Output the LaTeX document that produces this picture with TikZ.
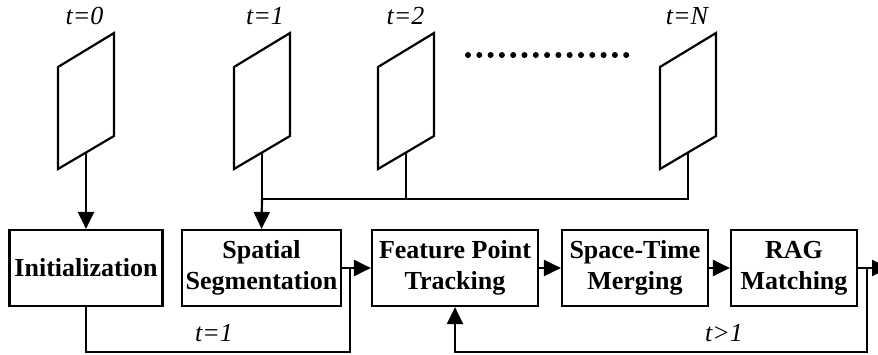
\documentclass[tikz,border=0pt]{standalone}
\usepackage{fontspec}
\setmainfont{Liberation Serif}
\usetikzlibrary{arrows.meta}
\begin{document}
\begin{tikzpicture}[x=1pt,y=-1pt,
  line width=2.2pt, line join=miter,
  box/.style={draw, minimum width=#1, minimum height=76pt, inner sep=0pt, align=center,
    font=\fontsize{26}{31}\selectfont\bfseries},
  lbl/.style={font=\fontsize{26}{31}\selectfont\itshape, inner sep=0pt, anchor=base},
  arr/.style={-{Triangle[length=17pt,width=16pt]}}
]
\clip (0,0) rectangle (878,354);
% frames
\foreach \n/\x in {f0/58, f1/234, f2/378, fN/660} {
  \draw (\x,67) -- (\x+56,33) -- (\x+56,136) -- (\x,169) -- cycle;
  \coordinate (\n) at (\x+28,152.5);
}
% labels
\node[lbl] (l0) at (84.5,24) {t=0};
\node[lbl] (l1) at (265,24) {t=1};
\node[lbl] (l2) at (405.5,24) {t=2};
\node[lbl] (lN) at (687,24) {t=N};
\node[lbl] (lb1) at (214,341) {t=1};
\node[lbl] (lb2) at (724,341) {t>1};
% dots
\foreach \i in {0,...,14} \fill (468+\i*11.3,55) coordinate (d\i) circle (3pt);
% boxes
\node[box=153pt] (init) at (86,268) {Initialization};
\node[box=159pt] (spat) at (261.5,268) {Spatial\\Segmentation};
\node[box=166pt] (feat) at (455,268) {Feature Point\\Tracking};
\node[box=146pt] (stm) at (635,268) {Space-Time\\Merging};
\node[box=126pt] (rag) at (794,268) {RAG\\Matching};
% helper coordinates
\coordinate (bus) at (0,199);
\coordinate (bot) at (0,352);
\coordinate (j1) at (350,268);
\coordinate (j2) at (867,268);
\coordinate (out) at (889,268);
% connectors
\draw[arr] (f0) -- (init.north);
\draw (f1) -- (f1 |- bus) -- (fN |- bus) -- (fN);
\draw (f2) -- (f2 |- bus);
\draw[arr] (f1 |- bus) -- (spat.north);
\draw[arr] (spat.east) -- (feat.west);
\draw (init.south) -- (init.south |- bot) -- (j1 |- bot) -- (j1);
\draw[arr] (feat.east) -- (stm.west);
\draw[arr] (stm.east) -- (rag.west);
\draw[arr] (rag.east) -- (out);
\draw[arr] (j2) -- (j2 |- bot) -- (feat.south |- bot) -- (feat.south);
\end{tikzpicture}
\end{document}
